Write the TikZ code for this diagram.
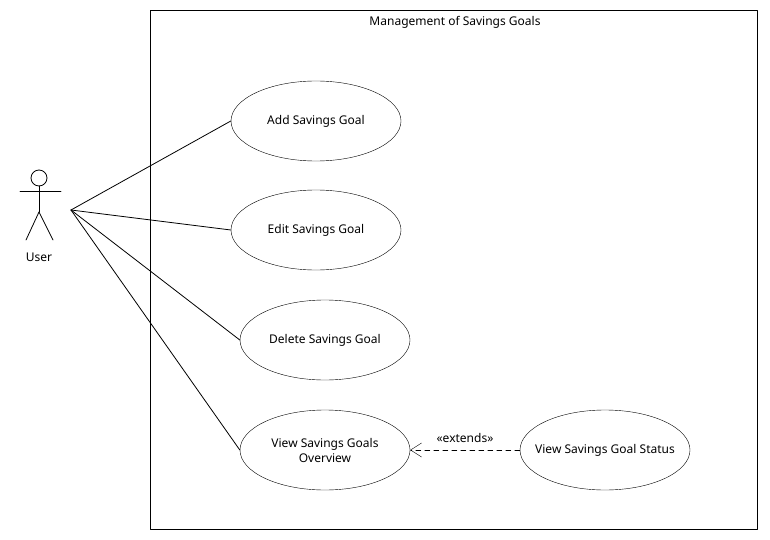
\documentclass[tikz,border=0pt]{standalone}
\usepackage{fontspec}
\setmainfont{Noto Sans}
\usetikzlibrary{shapes.geometric,arrows.meta}

\begin{document}
\begin{tikzpicture}[line cap=round,line join=round,x=1pt,y=-1pt,
  usecase/.style={draw,ellipse,minimum width=170pt,minimum height=80pt,inner xsep=-12pt,inner ysep=0pt,align=center},
  assoc/.style={draw,line width=0.8pt},
  extendsline/.style={draw,dash pattern=on 5pt off 4pt,-{Straight Barb[length=11pt,width=14pt]}}]
\useasboundingbox (0,0) rectangle (770,540);
\fontsize{12}{15}\selectfont
% system boundary
\draw[line width=0.8pt] (150,10) rectangle (757,529);
\node (title) at (455,22) {Management of Savings Goals};
% actor
\draw[line width=0.8pt] (39,178) circle (8);
\draw[line width=0.8pt] (39,186) -- (39,212);
\draw[line width=0.8pt] (20,191) -- (61,191);
\draw[line width=0.8pt] (39,212) -- (26,240);
\draw[line width=0.8pt] (39,212) -- (53,240);
\node (user) at (39,257) {User};
\coordinate (userport) at (71,210);
% use cases
\node[usecase] (addgoal) at (316,121) {Add Savings Goal};
\node[usecase] (editgoal) at (316,230) {Edit Savings Goal};
\node[usecase] (deletegoal) at (325,340) {Delete Savings Goal};
\node[usecase] (overview) at (325,450) {View Savings Goals\\Overview};
\node[usecase] (status) at (605,450) {View Savings Goal Status};
% associations
\draw[assoc] (userport) -- (addgoal.west);
\draw[assoc] (userport) -- (editgoal.west);
\draw[assoc] (userport) -- (deletegoal.west);
\draw[assoc] (userport) -- (overview.west);
\draw[extendsline] (status.west) -- node[above=3pt] {«extends»} (overview.east);
\end{tikzpicture}
\end{document}
